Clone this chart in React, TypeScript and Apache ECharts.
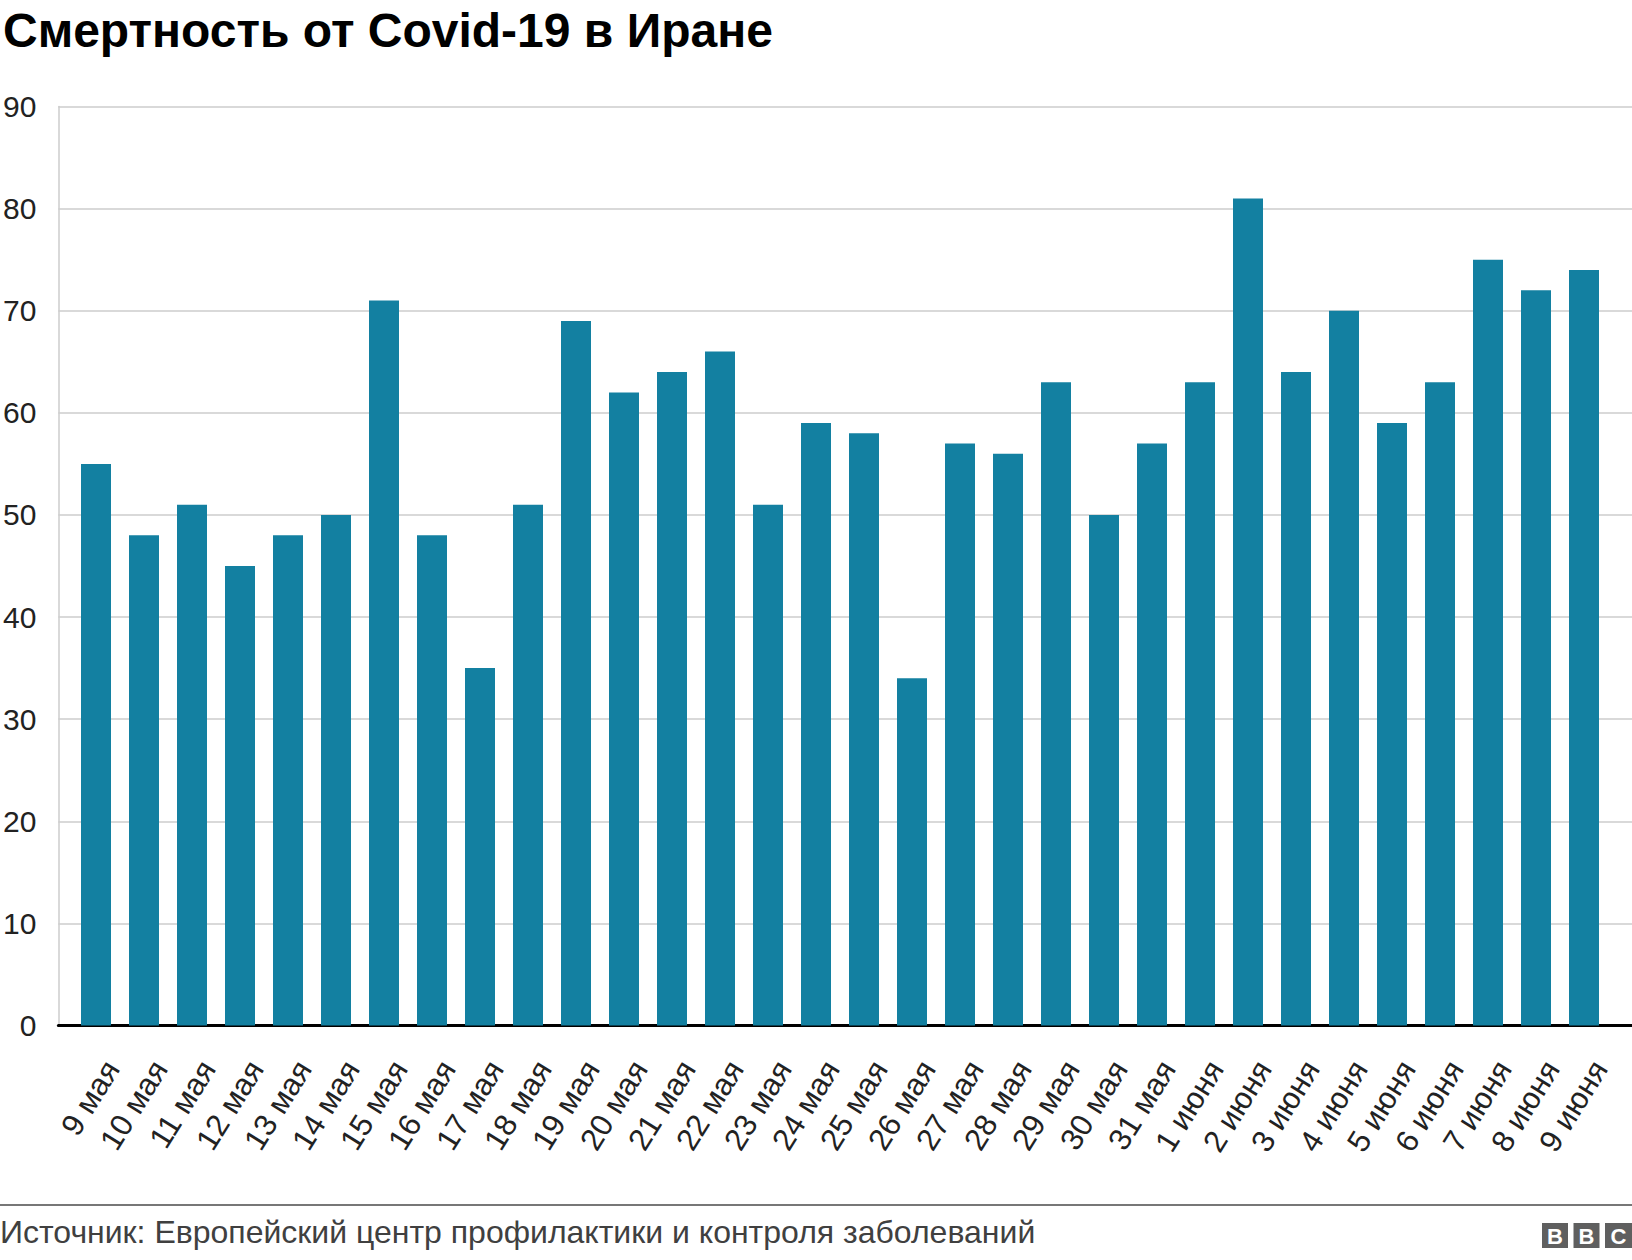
import React, { useEffect, useRef } from "react";
import * as echarts from "echarts";

const titleText = "Смертность от Covid-19 в Иране";
const sourceText = "Источник: Европейский центр профилактики и контроля заболеваний";

const categories = [
  "9 мая", "10 мая", "11 мая", "12 мая", "13 мая", "14 мая", "15 мая", "16 мая",
  "17 мая", "18 мая", "19 мая", "20 мая", "21 мая", "22 мая", "23 мая", "24 мая",
  "25 мая", "26 мая", "27 мая", "28 мая", "29 мая", "30 мая", "31 мая",
  "1 июня", "2 июня", "3 июня", "4 июня", "5 июня", "6 июня", "7 июня", "8 июня", "9 июня",
];

const deaths = [
  55, 48, 51, 45, 48, 50, 71, 48, 35, 51, 69, 62, 64, 66, 51, 59,
  58, 34, 57, 56, 63, 50, 57, 63, 81, 64, 70, 59, 63, 75, 72, 74,
];

const yMin = 0;
const yMax = 90;
const yStep = 10;

const FONT = "'Liberation Sans', Arial, Helvetica, sans-serif";

export default function App() {
  const ref = useRef<HTMLDivElement>(null);

  useEffect(() => {
    document.body.style.margin = "0";
    if (!ref.current) return;
    const chart = echarts.init(ref.current, undefined, { renderer: "svg" });

    const top = 106.5;
    const height = 919;

    chart.setOption({
      animation: false,
      backgroundColor: "#ffffff",
      title: {
        text: titleText,
        left: -2,
        top: 1,
        textStyle: { fontFamily: FONT, fontSize: 48, fontWeight: "bold", color: "#000000" },
      },
      grid: [
        { left: 57, right: 0, top, height },
        { left: 72, width: 1536, top, height },
        { left: 88, width: 1536, top, height },
      ],
      xAxis: [
        {
          gridIndex: 0,
          type: "value",
          min: 0,
          max: 1,
          axisLine: { show: true, onZero: false, lineStyle: { color: "#000000", width: 3 } },
          axisTick: { show: false },
          axisLabel: { show: false },
          splitLine: { show: false },
        },
        {
          gridIndex: 1,
          type: "category",
          data: categories,
          axisLine: { show: false },
          axisTick: { show: false },
          axisLabel: { show: false },
          splitLine: { show: false },
        },
        {
          gridIndex: 2,
          type: "category",
          data: categories,
          axisLine: { show: false },
          axisTick: { show: false },
          splitLine: { show: false },
          axisLabel: {
            show: true,
            interval: 0,
            rotate: 58,
            margin: 38,
            fontFamily: FONT,
            fontSize: 31,
            color: "#222222",
          },
        },
      ],
      yAxis: [
        {
          gridIndex: 0,
          type: "value",
          min: yMin,
          max: yMax,
          interval: yStep,
          axisLine: { show: true, lineStyle: { color: "#cccccc", width: 1.5 } },
          axisTick: { show: false },
          axisLabel: { margin: 22, fontFamily: FONT, fontSize: 30, color: "#222222" },
          splitLine: { show: true, lineStyle: { color: "#cccccc", width: 1.5 } },
        },
        { gridIndex: 1, type: "value", min: yMin, max: yMax, show: false, splitLine: { show: false } },
        { gridIndex: 2, type: "value", min: yMin, max: yMax, show: false, splitLine: { show: false } },
      ],
      series: [
        {
          type: "bar",
          xAxisIndex: 1,
          yAxisIndex: 1,
          data: deaths,
          barWidth: 30,
          itemStyle: { color: "#1380A1" },
          z: 1,
        },
      ],
      graphic: [
        {
          type: "line",
          shape: { x1: 0, y1: 1205, x2: 1632, y2: 1205 },
          style: { stroke: "#777777", lineWidth: 2 },
        },
        {
          type: "text",
          left: 0,
          top: 1216,
          style: { text: sourceText, font: `32px ${FONT}`, fill: "#404040" },
        },
        {
          type: "group",
          left: 1542,
          top: 1223,
          children: [
            { type: "rect", shape: { x: 0, y: 0, width: 26, height: 25 }, style: { fill: "#5f5f5f" } },
            { type: "rect", shape: { x: 31.5, y: 0, width: 26, height: 25 }, style: { fill: "#5f5f5f" } },
            { type: "rect", shape: { x: 63, y: 0, width: 27, height: 25 }, style: { fill: "#5f5f5f" } },
            { type: "text", x: 13, y: 13.5, style: { text: "B", font: `bold 22px ${FONT}`, fill: "#ffffff", align: "center", verticalAlign: "middle" } },
            { type: "text", x: 44.5, y: 13.5, style: { text: "B", font: `bold 22px ${FONT}`, fill: "#ffffff", align: "center", verticalAlign: "middle" } },
            { type: "text", x: 76.5, y: 13.5, style: { text: "C", font: `bold 22px ${FONT}`, fill: "#ffffff", align: "center", verticalAlign: "middle" } },
          ],
        },
      ],
    });

    return () => chart.dispose();
  }, []);

  return <div ref={ref} style={{ width: 1632, height: 1260 }} />;
}
